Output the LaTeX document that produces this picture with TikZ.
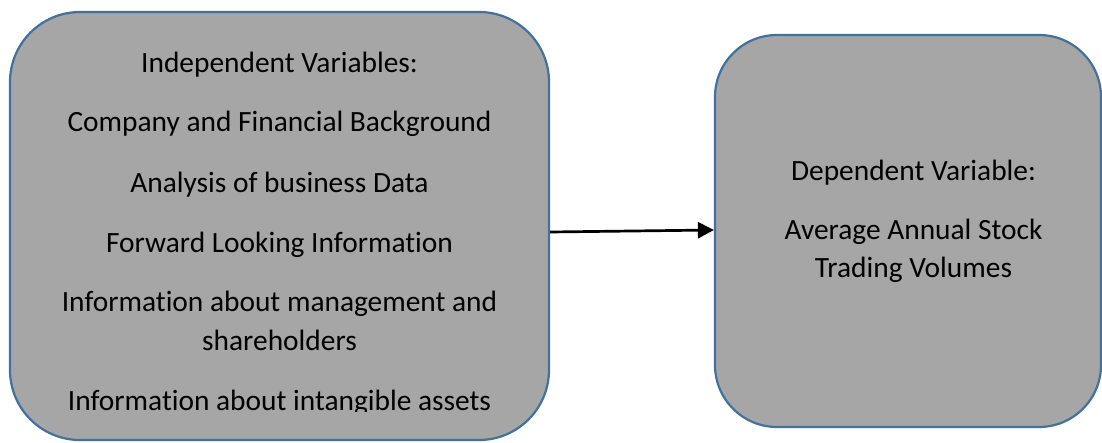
\documentclass[tikz,border=0pt]{standalone}
\usepackage{fontspec}
\setmainfont[Ligatures={NoCommon}]{Carlito}
\usetikzlibrary{arrows.meta}
\definecolor{boxfill}{HTML}{A6A6A6}
\definecolor{boxline}{HTML}{41719C}
\begin{document}
\begin{tikzpicture}[x=1pt,y=-1pt,
  varbox/.style={draw=boxline, fill=boxfill, line width=2.2pt, inner sep=0pt},
  txt/.style={anchor=base, font=\fontsize{29.4}{39}\selectfont, text=black, inner sep=0pt}]
\useasboundingbox (0,0) rectangle (1102,442);
\node[varbox, rounded corners=70pt, minimum width=539pt, minimum height=428pt] (L) at (279.5,226) {};
\node[varbox, rounded corners=62pt, minimum width=386pt, minimum height=392pt] (R) at (908,231) {};
\begin{scope}
\clip (0,0) rectangle (1102,411);
\node[txt] (l1) at (279.5,72) {Independent Variables:};
\node[txt] (l2) at (279.5,131) {Company and Financial Background};
\node[txt] (l3) at (279.5,192) {Analysis of business Data};
\node[txt] (l4) at (279.5,252) {Forward Looking Information};
\node[txt] (l5) at (279.5,311) {Information about management and};
\node[txt] (l6) at (279.5,350) {shareholders};
\node[txt] (l7) at (279.5,410) {Information about intangible assets};
\end{scope}
\node[txt] (r1) at (913.5,180) {Dependent Variable:};
\node[txt] (r2) at (913.5,239) {Average Annual Stock};
\node[txt] (r3) at (913.5,277) {Trading Volumes};
\draw[line width=2.7pt, -{Triangle[length=16pt,width=16pt]}] ([yshift=-6pt]L.east) -- ([yshift=1pt]R.west);
\end{tikzpicture}
\end{document}
